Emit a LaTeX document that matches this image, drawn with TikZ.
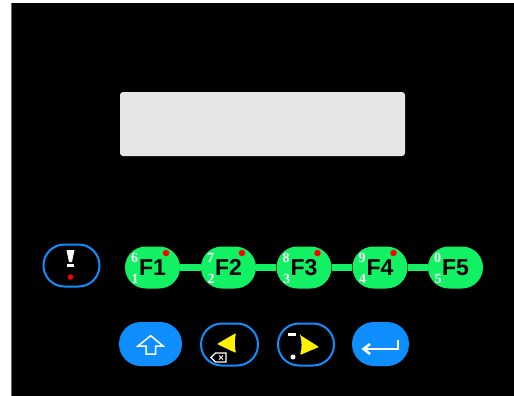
\documentclass[tikz,border=0pt]{standalone}
\usepackage{fontspec}
\setmainfont{Liberation Sans}
\newfontfamily\digitfont{Liberation Serif}
\definecolor{keygreen}{HTML}{12F063}
\definecolor{keyblue}{HTML}{0F8FFF}
\definecolor{lcdgrey}{HTML}{E6E6E6}
\tikzset{
	fkey/.style={draw=none,fill=keygreen,rounded corners=20.9pt,minimum width=55pt,minimum height=42pt,inner sep=0pt,text=black,font=\fontsize{23}{23}\selectfont\bfseries},
	ringkey/.style={draw=keyblue,line width=2pt,rounded corners=20.9pt,minimum width=56pt,minimum height=42pt,inner sep=0pt},
	bluekey/.style={fill=keyblue,rounded corners=21.9pt,minimum width=60pt,minimum height=44pt,inner sep=0pt},
	digit/.style={text=white,inner sep=0pt,font=\fontsize{14}{14}\selectfont\digitfont\bfseries},
	reddot/.style={circle,fill=red,minimum size=6.5pt,inner sep=0pt},
	icon/.style={draw=white,line width=1.5pt}
}
\begin{document}
\begin{tikzpicture}[x=1pt,y=-1pt]
	\useasboundingbox (0,0) rectangle (514,396);
	\fill[white] (0,0) rectangle (514,396);
	\fill[black] (11,3) rectangle (514,396);
	\fill[black!60] (11,3) rectangle (12,396);
	\node[fill=lcdgrey,rounded corners=3pt,minimum width=285pt,minimum height=64pt,inner sep=0pt] (lcd) at (262.5,124) {};

	\node[ringkey] (warn) at (71.5,265.5) {};
	\fill[white] (66.5,250) -- (74.5,250) -- (72,262) -- (69,262) -- cycle;
	\fill[white] (67,264) rectangle (74,266.5);
	\node[reddot,minimum size=5.5pt] (warndot) at (70.5,277) {};

	\foreach \n/\x in {1/152.5,2/228.5,3/304,4/380,5/455.5}
		\node[fkey] (f\n) at (\x,267.5) {F\n};
	\foreach \a/\b in {1/2,2/3,3/4,4/5}
		\draw[keygreen,line width=7pt] (f\a) -- (f\b);
	\foreach \n/\u/\l in {1/6/1,2/7/2,3/8/3,4/9/4,5/0/5}{
		\node[digit] (up\n) at ([shift={(-18,-9.5)}]f\n.center) {\u};
		\node[digit] (lo\n) at ([shift={(-17.5,11)}]f\n.center) {\l};
	}
	\foreach \n in {1,2,3,4}
		\node[reddot] (dot\n) at ([shift={(13.5,-14.5)}]f\n.center) {};

	\node[bluekey,minimum width=63pt] (shift) at (150.5,344) {};
	\draw[icon,line join=miter] (150.7,335.7) -- (138,346) -- (146,346) -- (146,354) -- (155.7,354) -- (155.7,346) -- (163,346) -- cycle;

	\node[ringkey,minimum width=57pt] (back) at (229.5,344.5) {};
	\fill[yellow,rounded corners=1pt] (217,344) -- (236,333) .. controls (234.5,340) and (234.5,346) .. (236,353) -- cycle;
	\draw[white,line width=1.2pt,fill=black] (211,357.5) -- (215.5,353) -- (226,353) -- (226,362) -- (215.5,362) -- cycle;
	\draw[white,line width=1pt] (219,355.5) -- (223,359.5) (223,355.5) -- (219,359.5);

	\node[ringkey] (next) at (306,344.5) {};
	\fill[yellow,rounded corners=1pt] (300,335) -- (319,347) -- (300,355) .. controls (302,348) and (302,342) .. (300,335) -- cycle;
	\fill[white] (288,333) rectangle (296,335.5);
	\node[circle,fill=white,minimum size=5pt,inner sep=0pt] (nextdot) at (293,357) {};

	\node[bluekey,minimum width=57pt] (enter) at (380.5,344) {};
	\draw[white,line width=2.5pt] (398,340) -- (398,349) -- (363.5,349);
	\draw[white,line width=2.5pt] (370,344) -- (363.5,349) -- (370,354);
\end{tikzpicture}
\end{document}
